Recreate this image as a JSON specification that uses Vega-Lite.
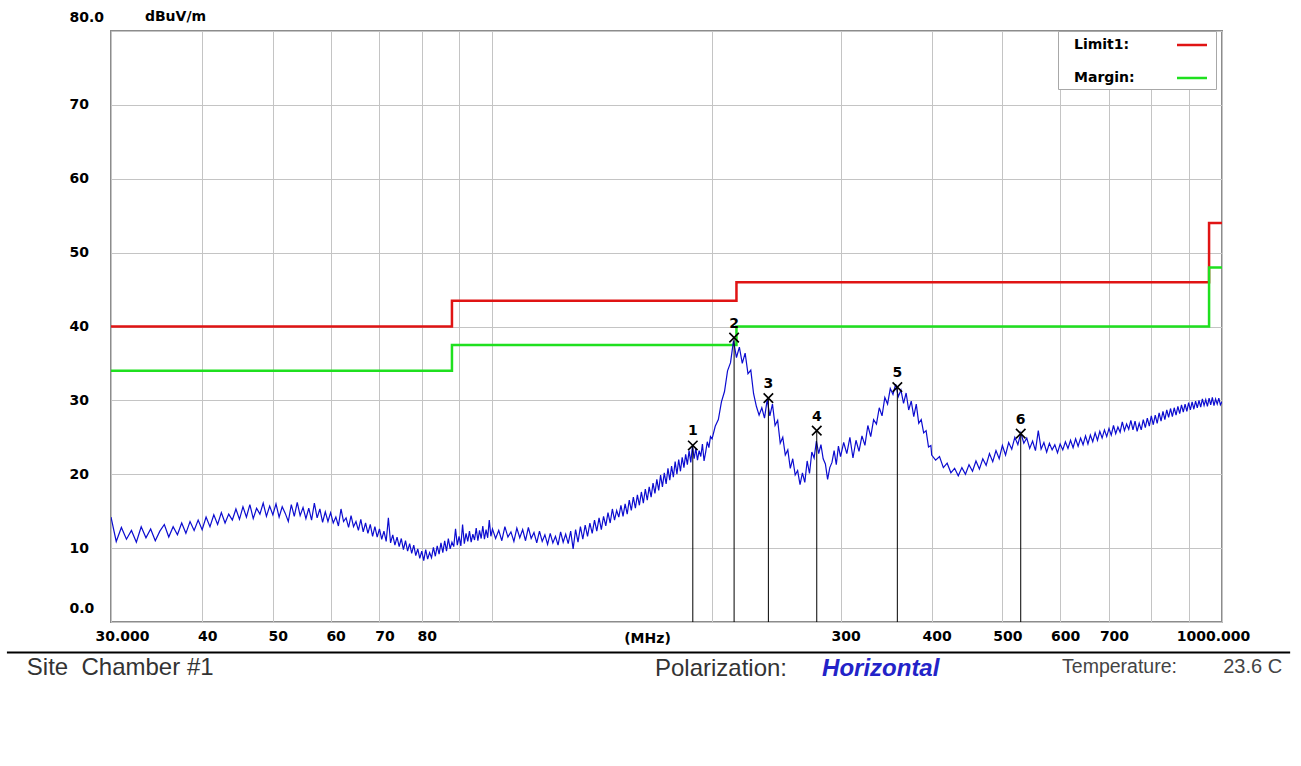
{
  "$schema": "https://vega.github.io/schema/vega-lite/v6.json",
  "autosize": {"type": "none"},
  "width": 1111,
  "height": 591,
  "padding": {"left": 111, "top": 31, "right": 79, "bottom": 144},
  "background": "white",
  "config": {
    "view": {"stroke": "#8c8c8c", "strokeWidth": 2},
    "axis": {
      "labelFont": "DejaVu Sans", "labelFontWeight": "bold", "labelFontSize": 14, "labelColor": "#000000",
      "gridColor": "#c4c4c4", "gridWidth": 1, "gridOpacity": 1, "domain": false, "ticks": false,
      "titleFont": "DejaVu Sans", "titleFontWeight": "bold", "titleFontSize": 14, "titleColor": "#000000"
    }
  },
  "datasets": {
    "trace": [
      {"f":30,"v":14.2},{"f":30.5,"v":10.9},{"f":31,"v":12.8},{"f":31.5,"v":11.2},{"f":32,"v":12.4},{"f":32.5,"v":10.8},{"f":33,"v":12.9},{"f":33.5,"v":11.4},{"f":34,"v":12.6},{"f":34.5,"v":11.0},
      {"f":35,"v":12.3},{"f":35.5,"v":13.2},{"f":36,"v":11.5},{"f":36.5,"v":12.9},{"f":37,"v":11.8},{"f":37.5,"v":13.4},{"f":38,"v":12.0},{"f":38.5,"v":13.6},{"f":39,"v":12.4},{"f":39.5,"v":13.8},
      {"f":40,"v":12.5},{"f":40.5,"v":14.2},{"f":41,"v":12.9},{"f":41.5,"v":14.5},{"f":42,"v":13.2},{"f":42.5,"v":14.8},{"f":43,"v":13.4},{"f":43.5,"v":14.6},{"f":44,"v":13.8},{"f":44.5,"v":15.3},
      {"f":45,"v":13.9},{"f":45.5,"v":15.6},{"f":46,"v":14.2},{"f":46.5,"v":15.9},{"f":47,"v":14.0},{"f":47.5,"v":15.4},{"f":48,"v":14.6},{"f":48.5,"v":16.1},{"f":49,"v":14.3},{"f":49.5,"v":15.7},
      {"f":50,"v":14.5},{"f":50.5,"v":16.0},{"f":51,"v":14.2},{"f":51.5,"v":15.6},{"f":52,"v":14.7},{"f":52.5,"v":13.6},{"f":53,"v":15.9},{"f":53.5,"v":14.3},{"f":54,"v":16.2},{"f":54.5,"v":14.4},
      {"f":55,"v":15.5},{"f":55.5,"v":14.0},{"f":56,"v":15.4},{"f":56.5,"v":13.8},{"f":57,"v":16.1},{"f":57.5,"v":14.1},{"f":58,"v":15.3},{"f":58.5,"v":13.5},{"f":59,"v":14.9},{"f":59.5,"v":13.6},
      {"f":60,"v":14.8},{"f":60.5,"v":13.4},{"f":61,"v":14.2},{"f":61.5,"v":13.0},{"f":62,"v":15.3},{"f":62.5,"v":13.6},{"f":63,"v":14.1},{"f":63.5,"v":12.8},{"f":64,"v":14.4},{"f":64.5,"v":12.9},
      {"f":65,"v":13.6},{"f":65.5,"v":12.4},{"f":66,"v":13.9},{"f":66.5,"v":12.2},{"f":67,"v":13.4},{"f":67.5,"v":12.0},{"f":68,"v":13.2},{"f":68.5,"v":11.6},{"f":69,"v":12.9},{"f":69.5,"v":11.5},
      {"f":70,"v":12.6},{"f":70.5,"v":11.2},{"f":71,"v":12.3},{"f":71.5,"v":10.9},{"f":72,"v":14.1},{"f":72.5,"v":10.7},{"f":73,"v":11.8},{"f":73.5,"v":10.4},{"f":74,"v":11.5},{"f":74.5,"v":10.2},
      {"f":75,"v":11.3},{"f":75.5,"v":9.8},{"f":76,"v":11.0},{"f":76.5,"v":9.6},{"f":77,"v":10.6},{"f":77.5,"v":9.3},{"f":78,"v":10.4},{"f":78.5,"v":9.0},{"f":79,"v":9.9},{"f":79.5,"v":8.6},
      {"f":80,"v":9.6},{"f":80.5,"v":8.3},{"f":81,"v":9.8},{"f":81.5,"v":8.5},{"f":82,"v":9.4},{"f":82.5,"v":8.7},{"f":83,"v":10.1},{"f":83.5,"v":8.9},{"f":84,"v":10.3},{"f":84.5,"v":9.2},
      {"f":85,"v":10.7},{"f":85.5,"v":9.4},{"f":86,"v":11.0},{"f":86.5,"v":9.6},{"f":87,"v":11.3},{"f":87.5,"v":9.9},{"f":88,"v":10.8},{"f":88.5,"v":10.2},{"f":89,"v":12.6},{"f":89.5,"v":10.4},
      {"f":90,"v":11.6},{"f":90.5,"v":10.3},{"f":91,"v":13.2},{"f":91.5,"v":10.6},{"f":92,"v":12.0},{"f":92.5,"v":10.9},{"f":93,"v":12.3},{"f":93.5,"v":10.8},{"f":94,"v":11.9},{"f":94.5,"v":11.1},
      {"f":95,"v":12.7},{"f":95.5,"v":11.0},{"f":96,"v":12.4},{"f":96.5,"v":11.3},{"f":97,"v":13.0},{"f":97.5,"v":11.2},{"f":98,"v":12.5},{"f":98.5,"v":11.4},{"f":99,"v":13.8},{"f":99.5,"v":11.6},
      {"f":100,"v":12.6},{"f":101,"v":11.3},{"f":102,"v":12.4},{"f":103,"v":11.0},{"f":104,"v":12.9},{"f":105,"v":11.5},{"f":106,"v":12.2},{"f":107,"v":10.9},{"f":108,"v":12.7},{"f":109,"v":11.4},
      {"f":110,"v":12.5},{"f":111,"v":11.0},{"f":112,"v":12.8},{"f":113,"v":11.3},{"f":114,"v":12.1},{"f":115,"v":10.7},{"f":116,"v":12.3},{"f":117,"v":10.9},{"f":118,"v":11.8},{"f":119,"v":10.5},
      {"f":120,"v":12.0},{"f":121,"v":10.7},{"f":122,"v":11.6},{"f":123,"v":10.4},{"f":124,"v":12.2},{"f":125,"v":10.8},{"f":126,"v":11.9},{"f":127,"v":10.6},{"f":128,"v":12.3},{"f":129,"v":9.9},
      {"f":130,"v":12.5},{"f":131,"v":10.8},{"f":132,"v":12.9},{"f":133,"v":11.2},{"f":134,"v":13.1},{"f":135,"v":11.6},{"f":136,"v":13.4},{"f":137,"v":12.0},{"f":138,"v":13.8},{"f":139,"v":12.3},
      {"f":140,"v":14.1},{"f":141,"v":12.5},{"f":142,"v":14.3},{"f":143,"v":13.0},{"f":144,"v":14.8},{"f":145,"v":13.4},{"f":146,"v":15.3},{"f":147,"v":13.8},{"f":148,"v":15.1},{"f":149,"v":14.2},
      {"f":150,"v":15.8},{"f":151,"v":14.3},{"f":152,"v":16.0},{"f":153,"v":14.6},{"f":154,"v":16.5},{"f":155,"v":15.1},{"f":156,"v":16.9},{"f":157,"v":15.4},{"f":158,"v":17.2},{"f":159,"v":15.8},
      {"f":160,"v":17.6},{"f":161,"v":16.1},{"f":162,"v":18.0},{"f":163,"v":16.5},{"f":164,"v":18.3},{"f":165,"v":16.9},{"f":166,"v":18.8},{"f":167,"v":17.4},{"f":168,"v":19.3},{"f":169,"v":17.8},
      {"f":170,"v":19.9},{"f":171,"v":18.3},{"f":172,"v":20.2},{"f":173,"v":18.7},{"f":174,"v":20.8},{"f":175,"v":19.2},{"f":176,"v":21.1},{"f":177,"v":19.6},{"f":178,"v":21.7},{"f":179,"v":20.0},
      {"f":180,"v":22.0},{"f":181,"v":20.4},{"f":182,"v":22.3},{"f":183,"v":20.9},{"f":184,"v":22.7},{"f":185,"v":21.3},{"f":186,"v":23.2},{"f":187,"v":21.6},{"f":188,"v":23.8},{"f":189,"v":22.1},
      {"f":190,"v":23.5},{"f":191,"v":21.9},{"f":192,"v":23.2},{"f":193,"v":22.4},{"f":194,"v":24.1},{"f":195,"v":21.8},{"f":196,"v":23.0},{"f":197,"v":24.4},{"f":198,"v":23.6},{"f":199,"v":25.1},
      {"f":200,"v":24.8},{"f":202,"v":26.5},{"f":204,"v":27.4},{"f":206,"v":29.8},{"f":208,"v":31.2},{"f":210,"v":34.0},{"f":212,"v":35.1},{"f":214,"v":38.1},{"f":216,"v":35.8},{"f":218,"v":37.2},
      {"f":220,"v":35.0},{"f":222,"v":36.4},{"f":224,"v":33.6},{"f":226,"v":34.1},{"f":228,"v":30.9},{"f":230,"v":29.2},{"f":232,"v":28.0},{"f":234,"v":29.0},{"f":236,"v":27.6},{"f":238,"v":30.1},
      {"f":240,"v":27.9},{"f":242,"v":29.5},{"f":244,"v":26.6},{"f":246,"v":27.3},{"f":248,"v":24.2},{"f":250,"v":25.0},{"f":252,"v":22.6},{"f":254,"v":23.3},{"f":256,"v":20.8},{"f":258,"v":22.1},
      {"f":260,"v":19.9},{"f":262,"v":20.5},{"f":264,"v":18.6},{"f":266,"v":20.2},{"f":268,"v":18.9},{"f":270,"v":21.8},{"f":272,"v":20.1},{"f":274,"v":23.0},{"f":276,"v":22.2},{"f":278,"v":24.5},
      {"f":280,"v":22.8},{"f":282,"v":24.0},{"f":284,"v":22.1},{"f":286,"v":21.4},{"f":288,"v":19.3},{"f":290,"v":20.9},{"f":292,"v":21.6},{"f":294,"v":23.2},{"f":296,"v":21.3},{"f":298,"v":23.8},
      {"f":300,"v":22.4},{"f":303,"v":24.3},{"f":306,"v":22.8},{"f":309,"v":25.0},{"f":312,"v":22.2},{"f":315,"v":24.6},{"f":318,"v":23.1},{"f":321,"v":25.2},{"f":324,"v":23.9},{"f":327,"v":26.6},
      {"f":330,"v":25.1},{"f":333,"v":27.4},{"f":336,"v":26.8},{"f":339,"v":29.0},{"f":342,"v":27.9},{"f":345,"v":30.4},{"f":348,"v":29.5},{"f":351,"v":31.6},{"f":354,"v":30.8},{"f":357,"v":32.2},
      {"f":360,"v":30.5},{"f":363,"v":31.4},{"f":366,"v":29.6},{"f":369,"v":31.0},{"f":372,"v":28.7},{"f":375,"v":29.9},{"f":378,"v":27.8},{"f":381,"v":29.5},{"f":384,"v":26.9},{"f":387,"v":27.4},
      {"f":390,"v":25.6},{"f":393,"v":25.9},{"f":396,"v":23.7},{"f":399,"v":23.9},
      {"f":400,"v":22.6},{"f":405,"v":21.9},{"f":410,"v":22.4},{"f":415,"v":20.9},{"f":420,"v":21.5},{"f":425,"v":20.2},{"f":430,"v":20.8},{"f":435,"v":19.8},{"f":440,"v":20.9},{"f":445,"v":20.0},
      {"f":450,"v":21.3},{"f":455,"v":20.4},{"f":460,"v":21.8},{"f":465,"v":20.7},{"f":470,"v":22.1},{"f":475,"v":21.2},{"f":480,"v":22.8},{"f":485,"v":21.7},{"f":490,"v":23.2},{"f":495,"v":22.1},
      {"f":500,"v":23.9},{"f":505,"v":22.6},{"f":510,"v":24.3},{"f":515,"v":23.4},{"f":520,"v":25.0},{"f":525,"v":24.0},{"f":530,"v":25.6},{"f":535,"v":24.2},{"f":540,"v":24.9},{"f":545,"v":23.5},
      {"f":550,"v":24.5},{"f":555,"v":23.2},{"f":560,"v":25.9},{"f":565,"v":23.4},{"f":570,"v":24.3},{"f":575,"v":23.0},{"f":580,"v":24.2},{"f":585,"v":23.3},{"f":590,"v":24.0},{"f":595,"v":22.9},
      {"f":600,"v":24.1},{"f":605,"v":23.3},{"f":610,"v":24.4},{"f":615,"v":23.5},{"f":620,"v":24.6},{"f":625,"v":23.6},{"f":630,"v":24.8},{"f":635,"v":23.8},{"f":640,"v":24.9},{"f":645,"v":24.0},
      {"f":650,"v":25.2},{"f":655,"v":24.1},{"f":660,"v":25.3},{"f":665,"v":24.4},{"f":670,"v":25.6},{"f":675,"v":24.6},{"f":680,"v":25.8},{"f":685,"v":24.9},{"f":690,"v":26.0},{"f":695,"v":25.1},
      {"f":700,"v":26.2},{"f":705,"v":25.3},{"f":710,"v":26.6},{"f":715,"v":25.5},{"f":720,"v":26.4},{"f":725,"v":25.7},{"f":730,"v":27.1},{"f":735,"v":25.9},{"f":740,"v":26.8},{"f":745,"v":26.1},
      {"f":750,"v":27.3},{"f":755,"v":26.0},{"f":760,"v":27.2},{"f":765,"v":25.8},{"f":770,"v":26.9},{"f":775,"v":26.0},{"f":780,"v":27.4},{"f":785,"v":26.3},{"f":790,"v":27.6},{"f":795,"v":26.5},
      {"f":800,"v":27.9},{"f":805,"v":26.7},{"f":810,"v":28.0},{"f":815,"v":26.9},{"f":820,"v":28.3},{"f":825,"v":27.2},{"f":830,"v":28.5},{"f":835,"v":27.4},{"f":840,"v":28.7},{"f":845,"v":27.7},
      {"f":850,"v":28.9},{"f":855,"v":27.8},{"f":860,"v":29.0},{"f":865,"v":28.0},{"f":870,"v":29.2},{"f":875,"v":28.2},{"f":880,"v":29.4},{"f":885,"v":28.4},{"f":890,"v":29.5},{"f":895,"v":28.5},
      {"f":900,"v":29.7},{"f":905,"v":28.7},{"f":910,"v":29.8},{"f":915,"v":28.8},{"f":920,"v":29.9},{"f":925,"v":29.0},{"f":930,"v":30.0},{"f":935,"v":29.1},{"f":940,"v":30.2},{"f":945,"v":29.3},
      {"f":950,"v":30.1},{"f":955,"v":29.2},{"f":960,"v":30.3},{"f":965,"v":29.4},{"f":970,"v":30.4},{"f":975,"v":29.3},{"f":980,"v":30.2},{"f":985,"v":29.5},{"f":990,"v":30.3},{"f":995,"v":29.4},
      {"f":1000,"v":29.8}
    ],
    "limits": [
      {"s":"Limit1:","f":30,"v":40},{"s":"Limit1:","f":88,"v":43.5},{"s":"Limit1:","f":216,"v":46},{"s":"Limit1:","f":960,"v":54},{"s":"Limit1:","f":1000,"v":54},
      {"s":"Margin:","f":30,"v":34},{"s":"Margin:","f":88,"v":37.5},{"s":"Margin:","f":216,"v":40},{"s":"Margin:","f":960,"v":48},{"s":"Margin:","f":1000,"v":48}
    ],
    "markers": [
      {"n":"1","f":188.2,"v":23.9},{"n":"2","f":214.4,"v":38.5},{"n":"3","f":238.9,"v":30.3},
      {"n":"4","f":278.3,"v":25.9},{"n":"5","f":358.9,"v":31.8},{"n":"6","f":529.8,"v":25.5}
    ]
  },
  "layer": [
    {
      "data": {"name": "limits"},
      "mark": {"type": "line", "interpolate": "step-after", "strokeWidth": 2.5, "clip": true},
      "encoding": {
        "x": {
          "field": "f", "type": "quantitative",
          "scale": {"type": "log", "domain": [30, 1000], "nice": false},
          "axis": {
            "values": [30,40,50,60,70,80,90,100,200,300,400,500,600,700,800,900,1000],
            "labelExpr": "datum.value == 30 ? '30.000' : datum.value == 1000 ? '1000.000' : (datum.value == 90 || datum.value == 100 || datum.value == 200 || datum.value == 800 || datum.value == 900) ? '' : format(datum.value, 'd')",
            "labelOverlap": false, "labelFlush": false, "labelPadding": 7, "labelBaseline": "top",
            "labelOffset": {"condition": [{"test": "datum.value <= 30", "value": 11}, {"test": "datum.value >= 1000", "value": -9}], "value": 5},
            "grid": true,
            "title": "(MHz)", "titleX": 536, "titleY": 16, "titleAlign": "center", "titleBaseline": "middle"
          }
        },
        "y": {
          "field": "v", "type": "quantitative",
          "scale": {"domain": [0, 80], "nice": false},
          "axis": {
            "values": [0,10,20,30,40,50,60,70,80],
            "grid": true, "labelAlign": "left", "labelPadding": 42, "labelFlush": false,
            "labelExpr": "datum.value == 0 ? '0.0' : datum.value == 80 ? '80.0' : format(datum.value, 'd')",
            "labelBaseline": {"condition": {"test": "datum.value == 0 || datum.value == 80", "value": "alphabetic"}, "value": "middle"},
            "labelOffset": {"condition": {"test": "datum.value == 0 || datum.value == 80", "value": -10}, "value": 0},
            "title": "dBuV/m", "titleAngle": 0, "titleX": 64, "titleY": -15, "titleAlign": "center", "titleBaseline": "middle"
          }
        },
        "color": {
          "field": "s", "type": "nominal",
          "scale": {"domain": ["Limit1:", "Margin:"], "range": ["#e01414", "#1fe01f"]},
          "legend": {
            "title": null, "orient": "none", "legendX": 947, "legendY": 0,
            "symbolType": "M-1.714,0L1.714,0", "symbolSize": 306, "symbolStrokeWidth": 2.5,
            "symbolOffset": 120, "labelOffset": -128, "rowPadding": 16, "padding": 4,
            "fillColor": "#ffffff", "strokeColor": "#a8a8a8",
            "labelFont": "DejaVu Sans", "labelFontWeight": "bold", "labelFontSize": 14, "labelColor": "#000000"
          }
        }
      }
    },
    {
      "data": {"name": "trace"},
      "mark": {"type": "line", "color": "#0c0cd0", "strokeWidth": 1.2, "clip": true},
      "encoding": {
        "x": {"field": "f", "type": "quantitative"},
        "y": {"field": "v", "type": "quantitative"}
      }
    },
    {
      "data": {"name": "markers"},
      "mark": {"type": "rule", "color": "#000000", "strokeWidth": 1},
      "encoding": {
        "x": {"field": "f", "type": "quantitative"},
        "y": {"field": "v", "type": "quantitative"},
        "y2": {"datum": 0}
      }
    },
    {
      "data": {"name": "markers"},
      "mark": {"type": "point", "shape": "M-1,-1L1,1M-1,1L1,-1", "size": 90, "filled": false, "stroke": "#000000", "strokeWidth": 1.6, "opacity": 1},
      "encoding": {
        "x": {"field": "f", "type": "quantitative"},
        "y": {"field": "v", "type": "quantitative"}
      }
    },
    {
      "data": {"name": "markers"},
      "mark": {"type": "text", "dy": -14, "font": "DejaVu Sans", "fontWeight": "bold", "fontSize": 14, "color": "#000000"},
      "encoding": {
        "x": {"field": "f", "type": "quantitative"},
        "y": {"field": "v", "type": "quantitative"},
        "text": {"field": "n"}
      }
    },
    {
      "data": {"values": [{}]},
      "mark": {"type": "rule", "color": "#000000", "strokeWidth": 2},
      "encoding": {"x": {"datum": 21.6}, "x2": {"datum": 1240}, "y": {"datum": -4.13}}
    },
    {
      "data": {"values": [{}]},
      "mark": {"type": "text", "text": "Site\u00a0 Chamber #1", "align": "left", "baseline": "alphabetic", "font": "Liberation Sans", "fontSize": 24, "color": "#333333"},
      "encoding": {"x": {"datum": 23.0}, "y": {"datum": -7.17}}
    },
    {
      "data": {"values": [{}]},
      "mark": {"type": "text", "text": "Polarization:", "align": "left", "baseline": "alphabetic", "font": "Liberation Sans", "fontSize": 24, "color": "#333333"},
      "encoding": {"x": {"datum": 167.0}, "y": {"datum": -7.31}}
    },
    {
      "data": {"values": [{}]},
      "mark": {"type": "text", "text": "Horizontal", "align": "left", "baseline": "alphabetic", "font": "Liberation Sans", "fontSize": 24, "fontWeight": "bold", "fontStyle": "italic", "color": "#2323c8"},
      "encoding": {"x": {"datum": 283.0}, "y": {"datum": -7.31}}
    },
    {
      "data": {"values": [{}]},
      "mark": {"type": "text", "text": "Temperature:", "align": "left", "baseline": "alphabetic", "font": "Liberation Sans", "fontSize": 19.5, "color": "#444444"},
      "encoding": {"x": {"datum": 603.6}, "y": {"datum": -6.9}}
    },
    {
      "data": {"values": [{}]},
      "mark": {"type": "text", "text": "23.6 C", "align": "right", "baseline": "alphabetic", "font": "Liberation Sans", "fontSize": 20, "color": "#444444"},
      "encoding": {"x": {"datum": 1208.8}, "y": {"datum": -6.9}}
    }
  ]
}
